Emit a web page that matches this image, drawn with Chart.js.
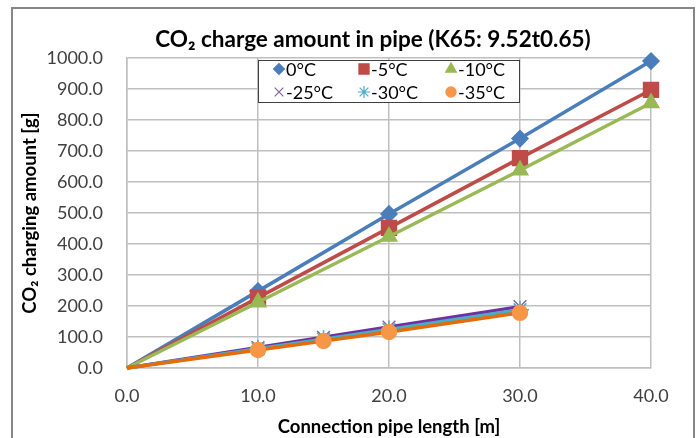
<!DOCTYPE html>
<html>
<head>
<meta charset="utf-8">
<script src="https://cdn.jsdelivr.net/npm/chart.js@4.4.0/dist/chart.umd.min.js"></script>
<style>
body { margin: 0; background: #fff; }
#wrap { position: relative; width: 696px; height: 438px; }
</style>
</head>
<body>
<div id="wrap"><canvas id="myChart"></canvas></div>
<script>
// pipe lengths [m]
let lengths = [0, 10, 20, 30, 40];
let lengthsLow = [0, 10, 15, 20, 30];

let seriesNames = ["0°C", "-5°C", "-10°C", "-25°C", "-30°C", "-35°C"];

// CO2 charge [g]
let charge0 = [0, 248, 497, 740, 990];
let charge5 = [0, 227, 452, 677, 897];
let charge10 = [0, 212, 424, 638, 855];
let charge25 = [0, 66, 99, 132, 198];
let charge30 = [0, 62, 93, 124, 188];
let charge35 = [0, 58, 87, 116, 178];

let xTicks = [0, 10, 20, 30, 40];
let yTicks = [0, 100, 200, 300, 400, 500, 600, 700, 800, 900, 1000];

let fontName = "Lato, 'Liberation Sans', sans-serif";

function pts(xs, ys) {
    return xs.map((x, i) => ({ x: x, y: ys[i] }));
}

let styles = [
    { line: "#4A7EBB", fill: "#4A7EBB", shape: "rectRot", r: 8 },
    { line: "#BE4B48", fill: "#BE4B48", shape: "rect", r: 10.5 },
    { line: "#98B954", fill: "#98B954", shape: "triangle", r: 9 },
    { line: "#7030A0", fill: "#8064A2", shape: "crossRot", r: 9 },
    { line: "#4BACC6", fill: "#4BACC6", shape: "star", r: 9 },
    { line: "#E46C0A", fill: "#F79646", shape: "circle", r: 7.5 }
];

let allData = [
    pts(lengths, charge0),
    pts(lengths, charge5),
    pts(lengths, charge10),
    pts(lengthsLow, charge25),
    pts(lengthsLow, charge30),
    pts(lengthsLow, charge35)
];

let datasets = allData.map((d, i) => ({
    label: seriesNames[i],
    data: d,
    order: 5 - i,
    clip: false,
    borderColor: styles[i].line,
    borderWidth: 3.5,
    pointStyle: styles[i].shape,
    pointRadius: (ctx) => ctx.dataIndex === 0 ? 0 : styles[i].r,
    pointBackgroundColor: styles[i].fill,
    pointBorderColor: styles[i].fill,
    pointBorderWidth: 1.5,
    tension: 0
}));

let framePlugin = {
    id: "frame",
    beforeDraw(chart) {
        let ctx = chart.ctx;
        ctx.save();
        ctx.fillStyle = "#fff";
        ctx.fillRect(0, 0, chart.width, chart.height);
        ctx.strokeStyle = "#868686";
        ctx.lineWidth = 2;
        ctx.strokeRect(12, 8, 682, 440);
        ctx.restore();
    },
    afterDraw(chart) {
        let ctx = chart.ctx;
        ctx.save();
        // title
        ctx.fillStyle = "#000";
        ctx.font = "bold 22.5px " + fontName;
        ctx.textAlign = "center";
        ctx.textBaseline = "middle";
        ctx.fillText("CO₂ charge amount in pipe (K65: 9.52t0.65)", 373, 40);

        // legend box on top of plot
        ctx.fillStyle = "#fff";
        ctx.fillRect(258, 60, 261, 42);
        ctx.strokeStyle = "#404040";
        ctx.lineWidth = 1;
        ctx.strokeRect(258.5, 60.5, 261, 42);

        let colX = [279, 364, 451];
        let rowY = [69, 92];
        ctx.font = "18px " + fontName;
        ctx.textAlign = "left";
        chart.data.datasets.forEach((ds, i) => {
            let cx = colX[i % 3];
            let cy = rowY[Math.floor(i / 3)];
            let st = styles[i];
            ctx.fillStyle = st.fill;
            ctx.strokeStyle = st.fill;
            ctx.lineWidth = 1.2;
            Chart.helpers.drawPoint(ctx, {
                pointStyle: st.shape,
                radius: st.r * 0.68,
                rotation: 0,
                borderWidth: 1.2
            }, cx, cy);
            ctx.fillStyle = "#000";
            ctx.fillText(ds.label, cx + 7, cy + 1);
        });
        ctx.restore();
    }
};

new Chart(document.getElementById("myChart"), {
    type: "line",
    data: { datasets: datasets },
    options: {
        responsive: true,
        maintainAspectRatio: false,
        animation: false,
        layout: { padding: { left: 12, top: 58, right: 45, bottom: 0 } },
        plugins: {
            legend: { display: false },
            title: { display: false },
            tooltip: { enabled: false }
        },
        scales: {
            x: {
                type: "linear",
                min: 0,
                max: 40,
                afterBuildTicks: (s) => { s.ticks = xTicks.map(v => ({ value: v })); },
                afterFit: (s) => { s.height = 70; },
                ticks: {
                    padding: 17,
                    color: "#404040",
                    font: { family: fontName, size: 18 },
                    callback: (v) => v.toFixed(1)
                },
                grid: { color: "#BFBFBF", lineWidth: 1.5, drawTicks: false },
                border: { color: "#BFBFBF", width: 1.5 },
                title: {
                    display: true,
                    text: "Connection pipe length [m]",
                    color: "#000",
                    font: { family: fontName, size: 18.5, weight: "bold" },
                    padding: { top: 2, bottom: 0 }
                }
            },
            y: {
                min: 0,
                max: 1000,
                afterBuildTicks: (s) => { s.ticks = yTicks.map(v => ({ value: v })); },
                afterFit: (s) => { s.width = 115; },
                ticks: {
                    padding: 24,
                    color: "#404040",
                    font: { family: fontName, size: 18 },
                    callback: (v) => v.toFixed(1)
                },
                grid: { color: "#BFBFBF", lineWidth: 1.5, drawTicks: false },
                border: { color: "#BFBFBF", width: 1.5 },
                title: {
                    display: true,
                    text: "CO₂ charging amount [g]",
                    color: "#000",
                    font: { family: fontName, size: 18.5, weight: "bold" },
                    padding: { top: 7, bottom: 0 }
                }
            }
        }
    },
    plugins: [framePlugin]
});
</script>
</body>
</html>
